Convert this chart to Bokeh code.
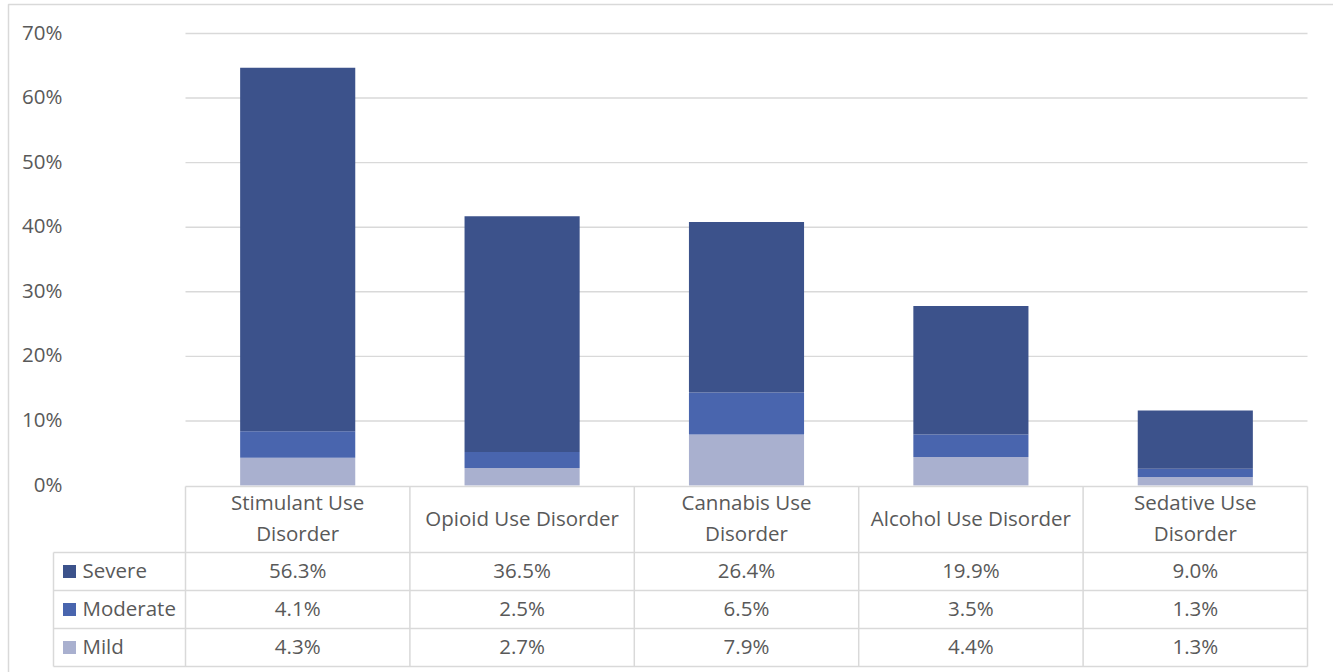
from bokeh.plotting import figure
from bokeh.models import ColumnDataSource, Range1d
from bokeh.core.properties import value
from bokeh.embed import file_html
from bokeh.resources import INLINE

# ---- data -------------------------------------------------------------
categories = ["Stimulant Use Disorder", "Opioid Use Disorder", "Cannabis Use Disorder",
              "Alcohol Use Disorder", "Sedative Use Disorder"]
header_labels = ["Stimulant Use\nDisorder", "Opioid Use Disorder", "Cannabis Use\nDisorder",
                 "Alcohol Use Disorder", "Sedative Use\nDisorder"]
severe = [56.3, 36.5, 26.4, 19.9, 9.0]
moderate = [4.1, 2.5, 6.5, 3.5, 1.3]
mild = [4.3, 2.7, 7.9, 4.4, 1.3]
series = ["Severe", "Moderate", "Mild"]
series_values = [severe, moderate, mild]
colors = ["#3C528B", "#4965AE", "#A9B0CF"]
y_ticks = [0, 10, 20, 30, 40, 50, 60, 70]
y_tick_labels = [f"{t}%" for t in y_ticks]

# ---- layout (pixels) --------------------------------------------------
W, H = 1333, 672
PLOT_L, PLOT_R = 185, 1307          # plot area / table data columns
Y_BOTTOM_PX, Y_TOP_PX = 485, 33     # 0% and 70% lines
Y_MAX = 70
TABLE_L = 53                        # left edge of the series-name column
ROW_EDGES_PX = [486, 552, 590, 628, 666]   # header top, header bottom, row bottoms

n = len(categories)
px_per_cat = (PLOT_R - PLOT_L) / n
px_per_pct = (Y_BOTTOM_PX - Y_TOP_PX) / Y_MAX


def xu(px):
    return (px - PLOT_L) / px_per_cat


def yu(px):
    return (Y_BOTTOM_PX - px) / px_per_pct


p = figure(width=W, height=H, output_backend="svg", toolbar_location=None,
           x_range=Range1d(xu(0), xu(W)), y_range=Range1d(yu(H), yu(0)),
           x_axis_type=None, y_axis_type=None, min_border=0)
p.outline_line_color = None
p.background_fill_color = "white"
p.border_fill_color = "white"

FONT = value("Open Sans")
FS = "20.5px"
TXT = "#595959"
GRID = "#D9D9D9"
TEXT_KW = dict(text_font=FONT, text_font_size=FS, text_color=TXT,
               text_baseline="middle", y_offset=-2)

# chart-area border (top and left edges)
p.line(x=[xu(8), xu(8), xu(W + 5)], y=[yu(H + 5), yu(4), yu(4)],
       line_color=GRID, line_width=1.5)

# horizontal gridlines
grid_vals = [t for t in y_ticks if t > 0]
p.segment(x0=[0] * len(grid_vals), x1=[n] * len(grid_vals), y0=grid_vals, y1=grid_vals,
          line_color=GRID, line_width=1.4)

# y tick labels
p.text(x=[xu(62)] * len(y_ticks), y=y_ticks, text=y_tick_labels,
       text_align="right", **TEXT_KW)

# stacked columns
xs = [i + 0.5 for i in range(n)]
src = ColumnDataSource(dict(x=xs, Mild=mild, Moderate=moderate, Severe=severe))
p.vbar_stack(["Mild", "Moderate", "Severe"], x="x", width=0.513, source=src,
             color=["#A9B0CF", "#4965AE", "#3C528B"], line_color=None)

# ---- data table -------------------------------------------------------
top, hdr_bot = yu(ROW_EDGES_PX[0]), yu(ROW_EDGES_PX[1])
row_bots = [yu(v) for v in ROW_EDGES_PX[2:]]
bottom = row_bots[-1]

# horizontal rules
p.segment(x0=[0], x1=[n], y0=[top], y1=[top], line_color=GRID, line_width=1.5)
hy = [hdr_bot] + row_bots
p.segment(x0=[xu(TABLE_L)] * len(hy), x1=[n] * len(hy), y0=hy, y1=hy,
          line_color=GRID, line_width=1.5)
# vertical rules
vx = list(range(n + 1))
p.segment(x0=vx, x1=vx, y0=[top] * len(vx), y1=[bottom] * len(vx),
          line_color=GRID, line_width=1.5)
p.segment(x0=[xu(TABLE_L)], x1=[xu(TABLE_L)], y0=[hdr_bot], y1=[bottom],
          line_color=GRID, line_width=1.5)

# header (category names)
p.text(x=xs, y=[(top + hdr_bot) / 2] * n, text=header_labels,
       text_align="center", text_line_height=1.08, **TEXT_KW)

# series rows
row_tops = [hdr_bot] + row_bots[:-1]
row_mid = [(a + b) / 2 for a, b in zip(row_tops, row_bots)]
p.scatter(x=[xu(69)] * len(series), y=row_mid, marker="square", size=13,
          color=colors, line_color=None)
p.text(x=[xu(82)] * len(series), y=row_mid, text=series,
       text_align="left", **TEXT_KW)

for vals, ym in zip(series_values, row_mid):
    p.text(x=xs, y=[ym] * n, text=[f"{v:.1f}%" for v in vals],
           text_align="center", **TEXT_KW)

open("out.html", "w").write(file_html(p, INLINE))
